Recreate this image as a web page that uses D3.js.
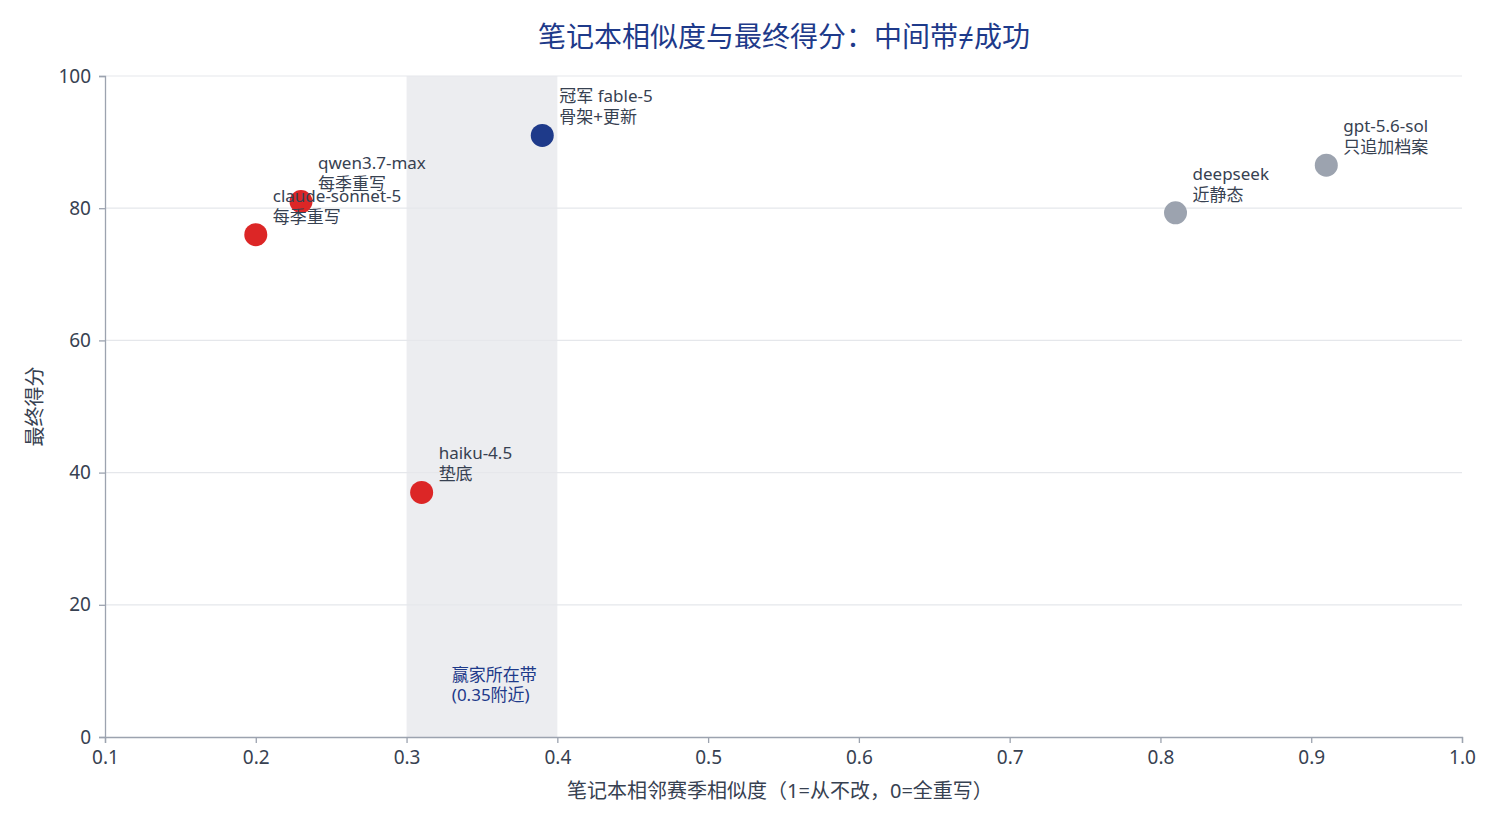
<!DOCTYPE html>
<html><head><meta charset="utf-8">
<script src="https://cdn.jsdelivr.net/npm/d3@7"></script>
<style>
body{margin:0;background:#fff;font-family:"Noto Sans","Noto Sans CJK SC",sans-serif;}
</style></head><body>
<svg id="chart" width="1500" height="825"></svg>
<script>
// 数据
const models = ["冠军 fable-5", "qwen3.7-max", "claude-sonnet-5", "haiku-4.5", "deepseek", "gpt-5.6-sol"];
const notes = ["骨架+更新", "每季重写", "每季重写", "垫底", "近静态", "只追加档案"];
const similarity = [0.39, 0.23, 0.2, 0.31, 0.81, 0.91];
const scores = [91, 81, 76, 37, 79.3, 86.5];
const groups = ["win", "rewrite", "rewrite", "rewrite", "static", "static"];
const xTicks = [0.1, 0.2, 0.3, 0.4, 0.5, 0.6, 0.7, 0.8, 0.9, 1.0];
const yTicks = [0, 20, 40, 60, 80, 100];
const band = [0.3, 0.4];

const colors = {win: "#1e3a8a", rewrite: "#dc2626", static: "#9ca3af"};
const svg = d3.select("#chart");
const m = {l: 105, r: 38, t: 76, b: 88};
const W = 1500, H = 825;
const x = d3.scaleLinear().domain([0.1, 1.0]).range([m.l, W - m.r]);
const y = d3.scaleLinear().domain([0, 100]).range([H - m.b, m.t]);

// 网格
svg.append("g").selectAll("line").data(yTicks.filter(d => d > 0)).join("line")
    .attr("x1", m.l).attr("x2", W - m.r)
    .attr("y1", d => y(d)).attr("y2", d => y(d))
    .attr("stroke", "#e5e7eb").attr("stroke-width", 1.2);

// 赢家带
svg.append("rect")
    .attr("x", x(band[0])).attr("width", x(band[1]) - x(band[0]))
    .attr("y", y(100)).attr("height", y(0) - y(100))
    .attr("fill", "#e5e7eb").attr("opacity", 0.75);
svg.append("text").attr("x", x(0.33)).attr("y", y(8.5))
    .attr("fill", "#1e3a8a").attr("font-size", 17)
    .call(t => {
        t.append("tspan").attr("x", x(0.33)).text("赢家所在带");
        t.append("tspan").attr("x", x(0.33)).attr("dy", 20).text("(0.35附近)");
    });

// 坐标轴
const xa = svg.append("g").attr("transform", `translate(0,${y(0)})`)
    .call(d3.axisBottom(x).tickValues(xTicks).tickFormat(d3.format(".1f")).tickSize(6).tickPadding(8));
const ya = svg.append("g").attr("transform", `translate(${m.l},0)`)
    .call(d3.axisLeft(y).tickValues(yTicks).tickSize(6).tickPadding(8));
[xa, ya].forEach(a => {
    a.selectAll("path,line").attr("stroke", "#9ca3af").attr("stroke-width", 1.3);
    a.selectAll("text").attr("fill", "#374151").attr("font-size", 19)
        .attr("font-family", "Noto Sans, sans-serif");
});

// 点
const pts = d3.range(models.length);
svg.append("g").selectAll("circle").data(pts).join("circle")
    .attr("cx", i => x(similarity[i])).attr("cy", i => y(scores[i]))
    .attr("r", 11.5).attr("fill", i => colors[groups[i]]);

// 标签
const lab = svg.append("g").selectAll("text").data(pts).join("text")
    .attr("fill", "#374151").attr("font-size", 17);
lab.append("tspan").attr("x", i => x(similarity[i]) + 17).attr("y", i => y(scores[i]) - 33).text(i => models[i]);
lab.append("tspan").attr("x", i => x(similarity[i]) + 17).attr("dy", 21).text(i => notes[i]);

// 标题
svg.append("text").attr("x", 784).attr("y", 47).attr("text-anchor", "middle")
    .attr("fill", "#1e3a8a").attr("font-size", 28)
    .text("笔记本相似度与最终得分：中间带≠成功");
svg.append("text").attr("x", 780).attr("y", 798).attr("text-anchor", "middle")
    .attr("fill", "#374151").attr("font-size", 20)
    .text("笔记本相邻赛季相似度（1=从不改，0=全重写）");
svg.append("text").attr("transform", `translate(42,${y(50)}) rotate(-90)`)
    .attr("text-anchor", "middle").attr("fill", "#374151").attr("font-size", 20)
    .text("最终得分");
</script>
</body></html>
